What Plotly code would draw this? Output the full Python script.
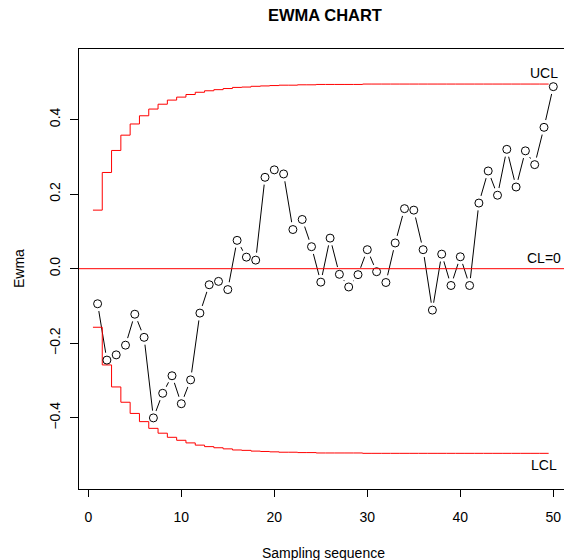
import plotly.graph_objects as go

# EWMA statistic for each sample
samples = list(range(1, 51))
ewma = [-0.094, -0.245, -0.231, -0.205, -0.122, -0.184, -0.400, -0.334, -0.287, -0.362,
        -0.298, -0.119, -0.043, -0.034, -0.056, 0.076, 0.031, 0.023, 0.245, 0.265,
        0.254, 0.105, 0.132, 0.059, -0.036, 0.082, -0.015, -0.049, -0.016, 0.051,
        -0.008, -0.037, 0.069, 0.161, 0.157, 0.051, -0.111, 0.039, -0.045, 0.032,
        -0.045, 0.176, 0.262, 0.197, 0.320, 0.219, 0.316, 0.279, 0.379, 0.488]

# Time-varying control limits
ucl = [0.157, 0.258, 0.317, 0.358, 0.388, 0.410, 0.428, 0.441, 0.452, 0.460,
       0.467, 0.473, 0.477, 0.480, 0.483, 0.486, 0.487, 0.489, 0.490, 0.491,
       0.492, 0.492, 0.493, 0.493, 0.494, 0.494, 0.494, 0.494, 0.494, 0.495,
       0.495, 0.495, 0.495, 0.495, 0.495, 0.495, 0.495, 0.495, 0.495, 0.495,
       0.495, 0.495, 0.495, 0.495, 0.495, 0.495, 0.495, 0.495, 0.495, 0.495]
lcl = [-0.157, -0.258, -0.317, -0.358, -0.388, -0.410, -0.428, -0.441, -0.452, -0.460,
       -0.467, -0.473, -0.477, -0.480, -0.483, -0.486, -0.487, -0.489, -0.490, -0.491,
       -0.492, -0.492, -0.493, -0.493, -0.494, -0.494, -0.494, -0.494, -0.494, -0.495,
       -0.495, -0.495, -0.495, -0.495, -0.495, -0.495, -0.495, -0.495, -0.495, -0.495,
       -0.495, -0.495, -0.495, -0.495, -0.495, -0.495, -0.495, -0.495, -0.495, -0.495]
center_line = 0.0

x_ticks = [0, 10, 20, 30, 40, 50]
y_ticks = [-0.4, -0.2, 0.0, 0.2, 0.4]
y_tick_text = ["\u22120.4", "\u22120.2", "0.0", "0.2", "0.4"]

FONT = "Liberation Sans, Arial, Helvetica, sans-serif"
step_x = [s - 0.5 for s in samples]

fig = go.Figure()

# connecting line with gaps around each point
fig.add_trace(go.Scatter(x=samples, y=ewma, mode="lines",
                         line=dict(color="black", width=1), hoverinfo="skip"))
fig.add_trace(go.Scatter(x=samples, y=ewma, mode="markers",
                         marker=dict(symbol="circle", size=15, color="white",
                                     line=dict(width=0)), hoverinfo="skip"))

# control limits
fig.add_trace(go.Scatter(x=step_x, y=ucl, mode="lines", line_shape="hv",
                         line=dict(color="red", width=1)))
fig.add_trace(go.Scatter(x=step_x, y=lcl, mode="lines", line_shape="hv",
                         line=dict(color="red", width=1)))
fig.add_hline(y=center_line, line=dict(color="red", width=1))

# points
fig.add_trace(go.Scatter(x=samples, y=ewma, mode="markers",
                         marker=dict(symbol="circle-open", size=8, color="black",
                                     line=dict(width=1, color="black"))))

# limit labels
label_x = samples[-2]
fig.add_annotation(x=label_x, y=ucl[-1], text="UCL", showarrow=False,
                   xanchor="center", yanchor="bottom", yshift=1,
                   font=dict(family=FONT, size=14, color="black"))
fig.add_annotation(x=label_x, y=center_line, text="CL=0", showarrow=False,
                   xanchor="center", yanchor="bottom", yshift=1,
                   font=dict(family=FONT, size=14, color="black"))
fig.add_annotation(x=label_x, y=lcl[-1], text="LCL", showarrow=False,
                   xanchor="center", yanchor="top", yshift=-2,
                   font=dict(family=FONT, size=14, color="black"))

# titles
fig.add_annotation(xref="paper", yref="paper", x=(325 - 79) / 485, y=1 + 33.5 / 440,
                   text="<b>EWMA CHART</b>", showarrow=False,
                   xanchor="center", yanchor="middle",
                   font=dict(family=FONT, size=16.5, color="black"))
fig.add_annotation(xref="paper", yref="paper", x=(323.5 - 79) / 485, y=-64 / 440,
                   text="Sampling sequence", showarrow=False,
                   xanchor="center", yanchor="middle",
                   font=dict(family=FONT, size=14, color="black"))
fig.add_annotation(xref="paper", yref="paper", x=-(79 - 19) / 485, y=(489 - 269) / 440,
                   text="Ewma", showarrow=False, textangle=-90,
                   xanchor="center", yanchor="middle",
                   font=dict(family=FONT, size=14, color="black"))

fig.update_layout(
    width=564, height=560,
    margin=dict(l=79, r=0, t=49, b=71),
    paper_bgcolor="white", plot_bgcolor="white",
    showlegend=False,
    font=dict(family=FONT, size=14, color="black"),
)
fig.update_xaxes(range=[-1.0, 51.15], tickvals=x_ticks, ticks="outside", ticklen=7,
                 tickwidth=1, tickcolor="black", showline=True, linecolor="black",
                 linewidth=1, mirror=True, showgrid=False, zeroline=False,
                 ticklabelstandoff=8,
                 tickfont=dict(family=FONT, size=14))
fig.update_yaxes(range=[-0.5906, 0.589], tickvals=y_ticks, ticktext=y_tick_text,
                 ticks="outside", ticklen=8, tickwidth=1, tickcolor="black",
                 showline=True, linecolor="black", linewidth=1, mirror=False,
                 showgrid=False, zeroline=False, tickangle=-90,
                 ticklabelstandoff=4,
                 tickfont=dict(family=FONT, size=14))

fig.write_html("out.html")
